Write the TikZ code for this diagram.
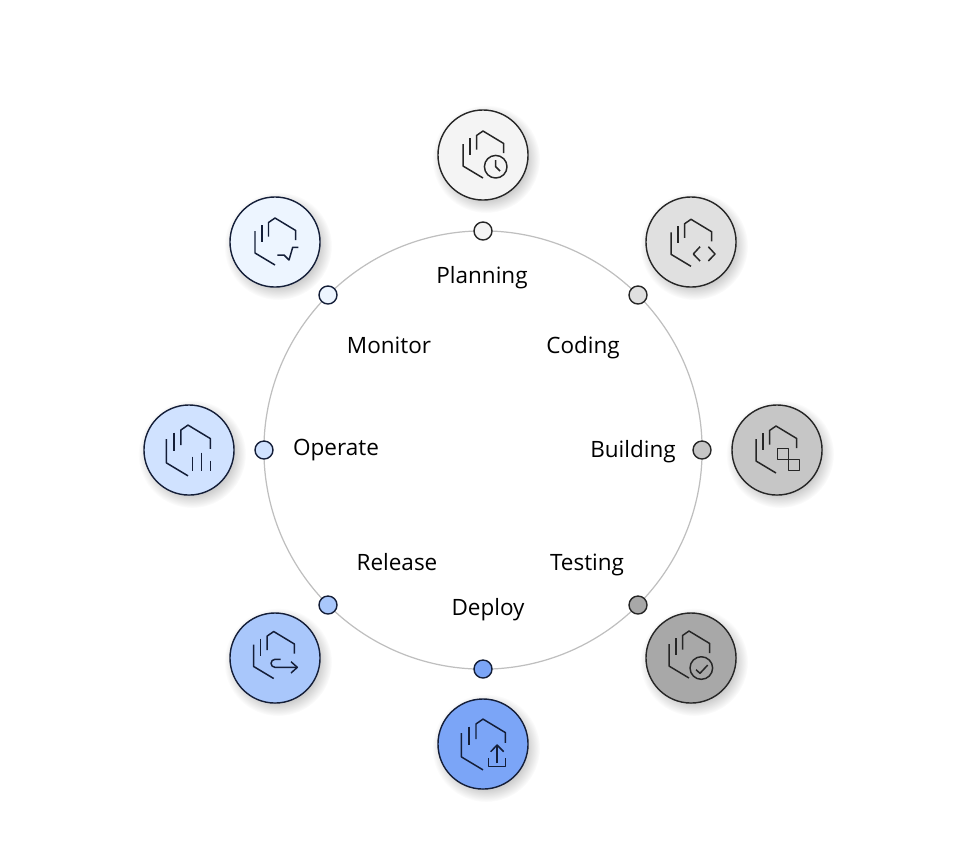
\documentclass[tikz,border=0pt]{standalone}
\usepackage{fontspec}
\setmainfont{Open Sans}
\usetikzlibrary{fadings,backgrounds}
\definecolor{planfill}{HTML}{F4F4F4}
\definecolor{codefill}{HTML}{E0E0E0}
\definecolor{buildfill}{HTML}{C6C6C6}
\definecolor{testfill}{HTML}{A8A8A8}
\definecolor{deployfill}{HTML}{7BA5F7}
\definecolor{releasefill}{HTML}{A9C7FB}
\definecolor{operatefill}{HTML}{D0E2FF}
\definecolor{monitorfill}{HTML}{EDF5FF}
\definecolor{inkgray}{HTML}{262626}
\definecolor{inkblue}{HTML}{141E38}
\pgfdeclareradialshading{softshade}{\pgfpointorigin}{color(0bp)=(pgftransparent!0); color(18bp)=(pgftransparent!0); color(25bp)=(pgftransparent!100); color(50bp)=(pgftransparent!100)}
\pgfdeclarefading{softblur}{\pgfuseshading{softshade}}
\tikzset{
	bigdisc/.style={circle,draw=#1,line width=.4pt,minimum size=.9cm,inner sep=0pt},
	smalldisc/.style={circle,draw=#1,line width=.4pt,minimum size=.18cm,inner sep=0pt},
	phase/.style={font=\fontsize{6.4pt}{8pt}\selectfont,text=black,inner sep=0pt,anchor=base},
	softshadow/.style={fill=black,fill opacity=.22,path fading=softblur},
	iconline/.style={draw=#1,line width=.42pt,line join=round},
	pics/hexbase/.style={code={
			\draw[iconline=#1] (-20,-11) -- (-20,11) -- (0,23);
			\draw[iconline=#1] (-13,-17) -- (-13,0);
			\draw[iconline=#1] (-6.5,-5.5) -- (-6.5,-19.5) -- (0,-24) -- (20.7,-11.5) -- (20.7,-2);
		}}
}
\begin{document}
\begin{tikzpicture}[x=.01cm,y=-.01cm]
	\useasboundingbox (0,0) rectangle (968,860);

	\node[circle,draw=black!25,line width=.35pt,minimum size=4.38cm,inner sep=0pt] (ring) at (483,450) {};

	% outer discs
	\node[bigdisc=inkgray,fill=planfill] (planningdisc) at (483,155) {};
	\node[bigdisc=inkgray,fill=codefill] (codingdisc) at (691,242) {};
	\node[bigdisc=inkgray,fill=buildfill] (buildingdisc) at (777,450) {};
	\node[bigdisc=inkgray,fill=testfill] (testingdisc) at (691,658) {};
	\node[bigdisc=inkblue,fill=deployfill] (deploydisc) at (483,744) {};
	\node[bigdisc=inkblue,fill=releasefill] (releasedisc) at (275,658) {};
	\node[bigdisc=inkblue,fill=operatefill] (operatedisc) at (189,450) {};
	\node[bigdisc=inkblue,fill=monitorfill] (monitordisc) at (275,242) {};

	% soft shadows go behind the discs
	\begin{scope}[on background layer]
		\foreach \disc in {planningdisc,codingdisc,buildingdisc,testingdisc,deploydisc,releasedisc,operatedisc,monitordisc}
		\fill[softshadow,shift={(\disc.center)}] (3,4) circle (54);
	\end{scope}

	% dots on the ring
	\node[smalldisc=inkgray,fill=planfill] (planningdot) at (483,231) {};
	\node[smalldisc=inkgray,fill=codefill] (codingdot) at (638,295) {};
	\node[smalldisc=inkgray,fill=buildfill] (buildingdot) at (702,450) {};
	\node[smalldisc=inkgray,fill=testfill] (testingdot) at (638,605) {};
	\node[smalldisc=inkblue,fill=deployfill] (deploydot) at (483,669) {};
	\node[smalldisc=inkblue,fill=releasefill] (releasedot) at (328,605) {};
	\node[smalldisc=inkblue,fill=operatefill] (operatedot) at (264,450) {};
	\node[smalldisc=inkblue,fill=monitorfill] (monitordot) at (328,295) {};

	% labels
	\node[phase] (planninglabel) at (482,283) {Planning};
	\node[phase] (codinglabel) at (583,353) {Coding};
	\node[phase] (buildinglabel) at (633,457) {Building};
	\node[phase] (testinglabel) at (587,570) {Testing};
	\node[phase] (deploylabel) at (488,615) {Deploy};
	\node[phase] (releaselabel) at (397,570) {Release};
	\node[phase] (operatelabel) at (336,455) {Operate};
	\node[phase] (monitorlabel) at (389,353) {Monitor};

	% icons
	\pic at (planningdisc.center) {hexbase=inkgray};
	\begin{scope}[shift={(planningdisc.center)},iconline=inkgray]
		\draw (12.7,11.7) circle (11.3);
		\draw (12.7,5) -- (12.7,11.7) -- (17,16);
	\end{scope}

	\pic at ([yshift=-.013cm]codingdisc.center) {hexbase=inkgray};
	\begin{scope}[shift={(codingdisc.center)},iconline=inkgray]
		\draw (9,4.7) -- (2.3,12) -- (9,19);
		\draw (17.3,4.7) -- (24,12) -- (17.3,19);
	\end{scope}

	\pic at ([xshift=-.01cm]buildingdisc.center) {hexbase=inkgray};
	\begin{scope}[shift={(buildingdisc.center)},iconline=inkgray]
		\draw (.7,-1.7) rectangle (11.3,9.3);
		\draw (11.3,9.3) rectangle (22.3,20.3);
	\end{scope}

	\pic at ([xshift=-.02cm,yshift=.03cm]testingdisc.center) {hexbase=inkgray};
	\begin{scope}[shift={(testingdisc.center)},iconline=inkgray]
		\draw (10.3,10) circle (11.3);
		\draw (5,11.7) -- (9,15.3) -- (16.7,7);
	\end{scope}

	\pic[scale=1.08] at ([yshift=-.01cm]deploydisc.center) {hexbase=inkblue};
	\begin{scope}[shift={(deploydisc.center)},iconline=inkblue]
		\draw (5.7,14.3) -- (5.7,22.3) -- (22.3,22.3) -- (22.3,14.3);
		\draw (14,19.3) -- (14,1.7);
		\draw (7.7,7.7) -- (14,1) -- (20.7,7.7);
	\end{scope}

	\pic at ([xshift=-.013cm,yshift=.025cm]releasedisc.center) {hexbase=inkblue};
	\begin{scope}[shift={(releasedisc.center)},iconline=inkblue]
		\draw (5.7,1.3) -- (0,1.3) arc[start angle=270,end angle=90,radius=4] -- (22.3,9.3);
		\draw (16,3.7) -- (22.3,9.3) -- (16,15);
	\end{scope}

	\pic[scale=1.08] at ([xshift=-.01cm,yshift=-.01cm]operatedisc.center) {hexbase=inkblue};
	\begin{scope}[shift={(operatedisc.center)},iconline=inkblue]
		\draw (3.3,6.7) -- (3.3,21);
		\draw (12.7,2.7) -- (12.7,21);
		\draw (21.7,10.7) -- (21.7,21);
	\end{scope}

	\pic at (monitordisc.center) {hexbase=inkblue};
	\begin{scope}[shift={(monitordisc.center)},iconline=inkblue]
		\draw (2.3,13) -- (9,13) -- (14,18) -- (17.7,5.3) -- (23.3,5.3);
	\end{scope}
\end{tikzpicture}
\end{document}
